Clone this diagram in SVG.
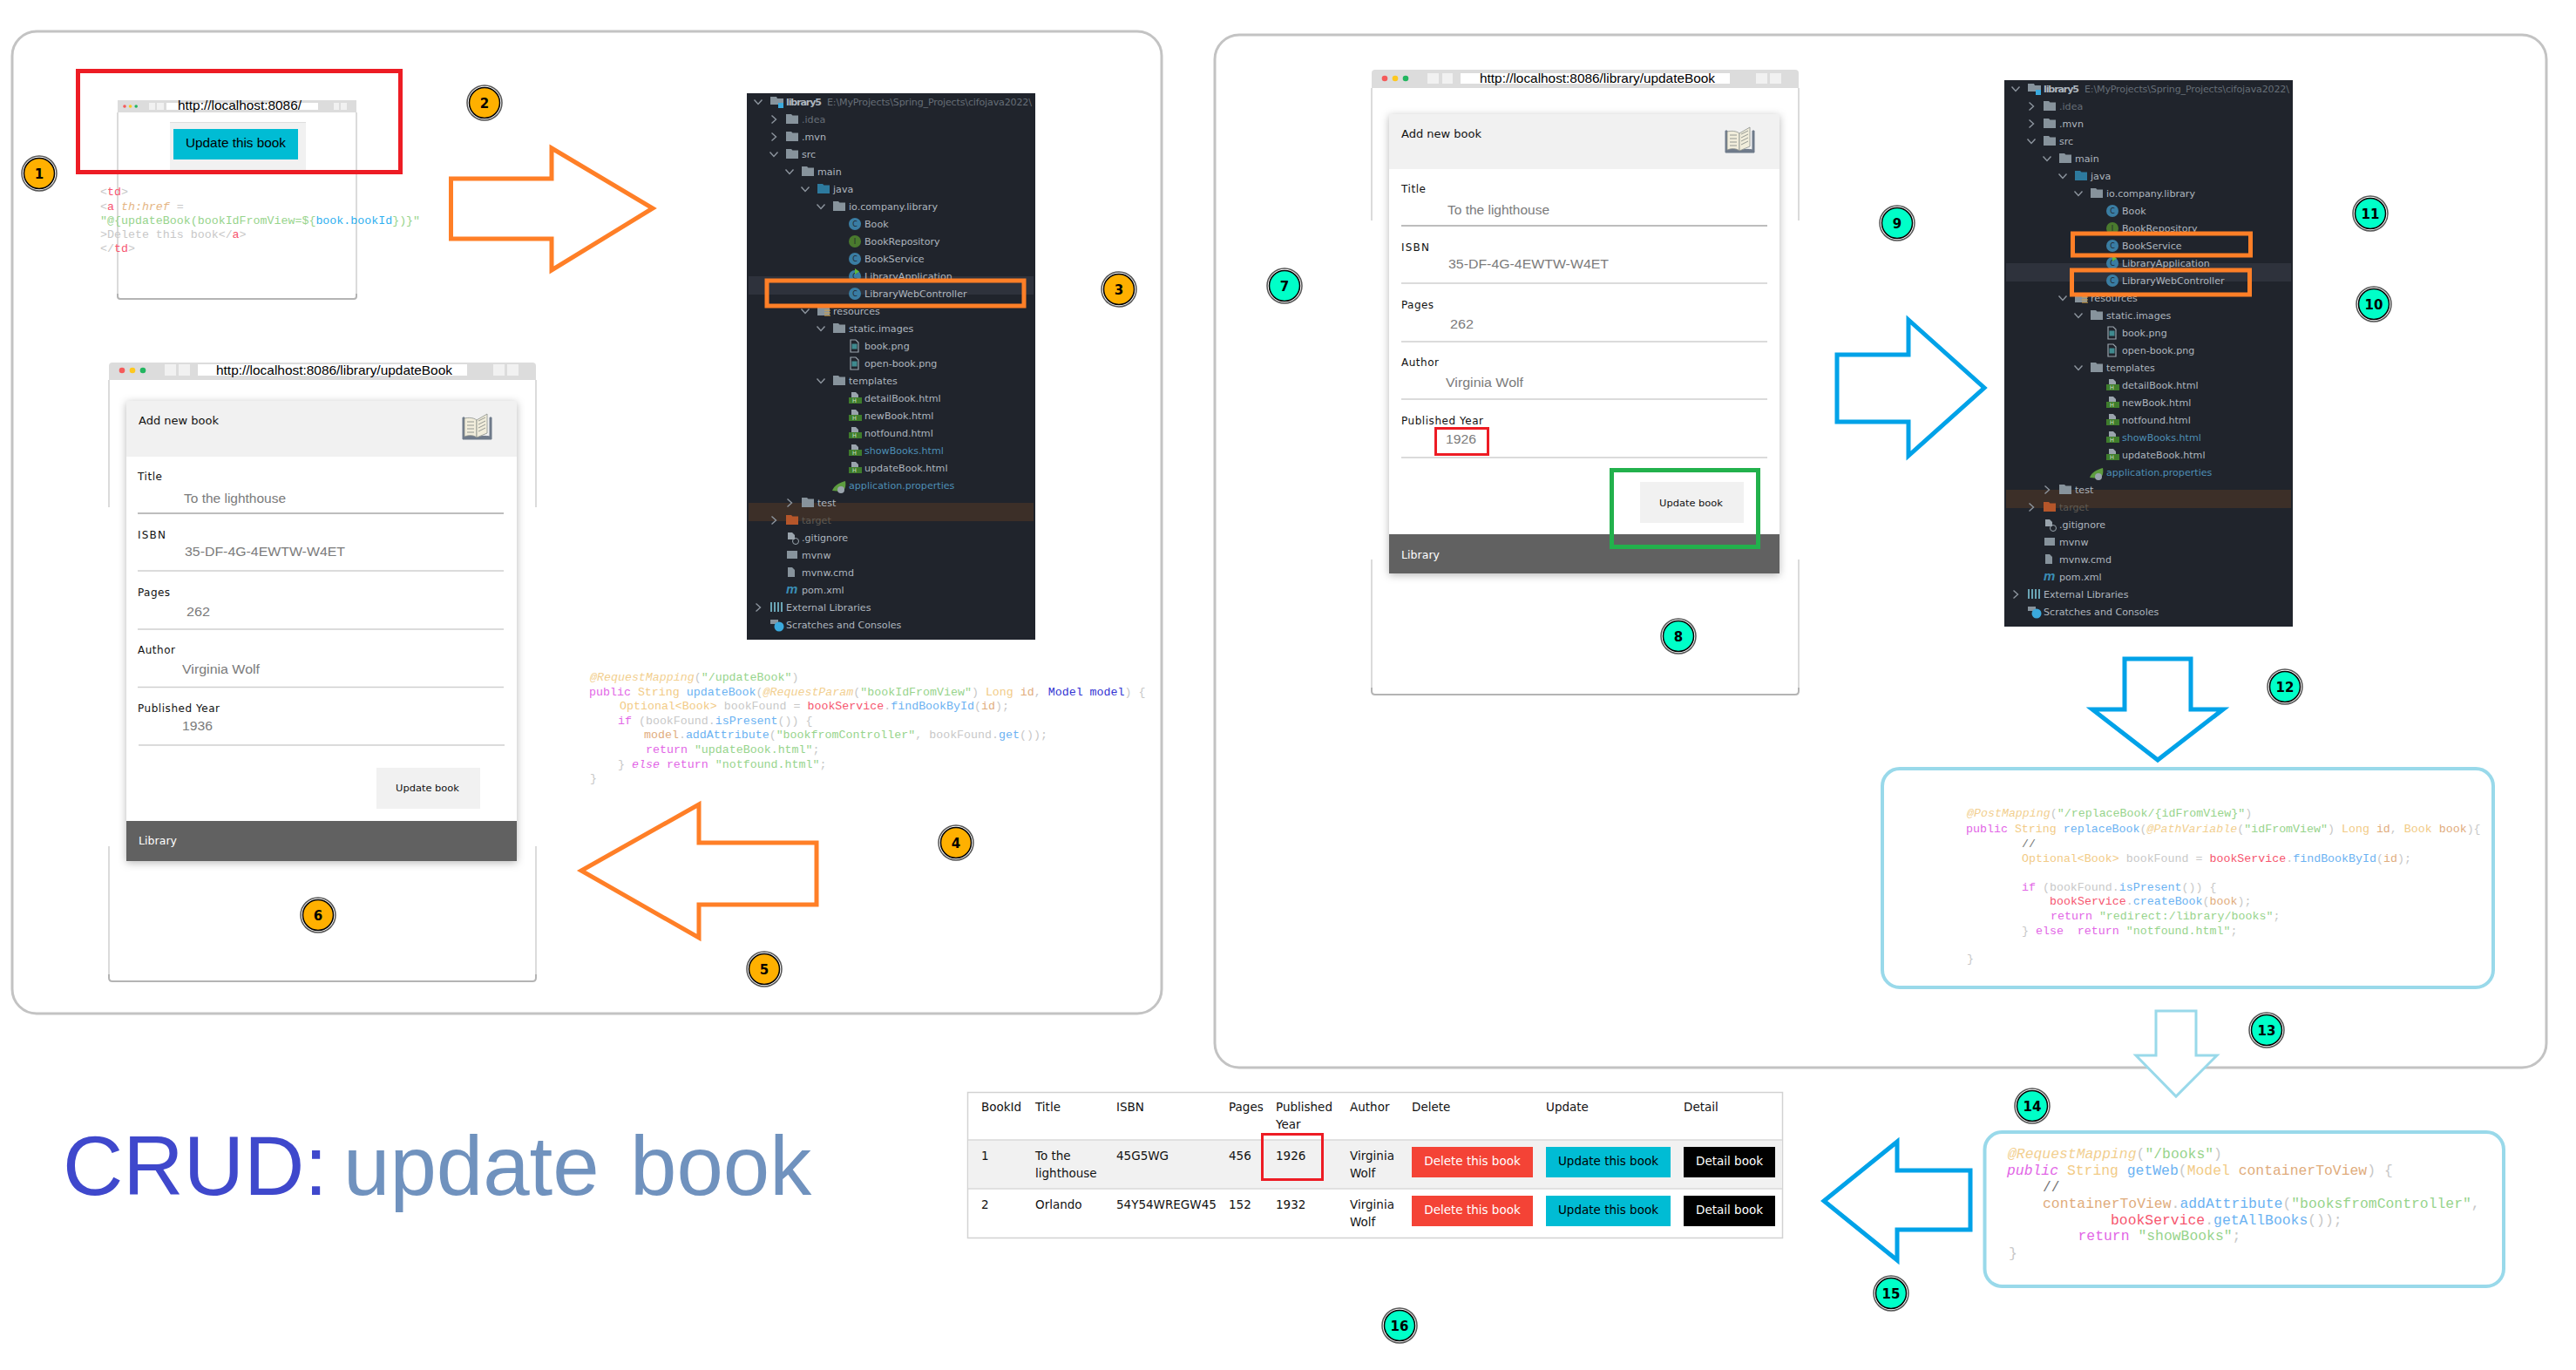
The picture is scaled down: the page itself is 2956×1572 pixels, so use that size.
<svg xmlns="http://www.w3.org/2000/svg" width="2956" height="1572" viewBox="0 0 2956 1572">
<style>
text{font-family:"Liberation Sans",Arial,sans-serif}
.panel{fill:#fff;stroke:#c3c3c3;stroke-width:3}
.win{fill:none;stroke:#cfcfcf;stroke-width:1.5}
.winb{fill:none;stroke:#b4b4b4;stroke-width:2}
.bar{fill:#dcdcdc}
.navb{fill:#f1f1f1}
.addr{fill:#fff}
.url{font-size:15px;fill:#000}
.card{fill:#fff;filter:url(#sh)}
.chead{fill:#f1f1f1}
.cfoot{fill:#616161}
.lb{font-family:"DejaVu Sans",sans-serif;font-size:12px;fill:#111}
.val{font-size:15.5px;fill:#7b7b7b}
.ln{stroke:#cfcfcf;stroke-width:1.3}
.ln1{stroke:#bdbdbd;stroke-width:2}
.btn{fill:#f1f1f1}
.btt{font-family:"DejaVu Sans",sans-serif;font-size:10.5px;fill:#111}
.fl{font-family:"DejaVu Sans",sans-serif;font-size:12.5px;fill:#fff}
.hl{fill:none;stroke:#ff7f27;stroke-width:5}
.red{fill:none;stroke:#ed1c24}
.arO{fill:#fff;stroke:#ff7f27;stroke-width:5;stroke-linejoin:miter}
.arB{fill:#fff;stroke:#00a2e8;stroke-width:5;stroke-linejoin:miter}
.arL{fill:#fff;stroke:#99d9ea;stroke-width:3;stroke-linejoin:miter}
.box{fill:#fff;stroke:#99d9ea;stroke-width:4}
.r1{fill:#fff;stroke:#555;stroke-width:1.5}
.bY{fill:#ffb000;stroke:#000;stroke-width:1.5}
.bC{fill:#00ffc8;stroke:#000;stroke-width:1.5}
.bt{font-family:"DejaVu Sans",sans-serif;font-weight:bold;font-size:15px;fill:#000;text-anchor:middle}
.tree{fill:#20242c}
.tt{font-family:"DejaVu Sans",sans-serif;font-size:11.1px;fill:#aeb6bf}
.tg{fill:#666e77}
.tb{fill:#4d8fb6}
.td{fill:#5f5a52}
.c{fill:none;stroke:#8d959e;stroke-width:1.4}
.code{font-family:"Liberation Mono",monospace;font-size:13.3px;fill:#c8c8c8;white-space:pre}
.code2{font-family:"Liberation Mono",monospace;font-size:16.4px;fill:#c8c8c8;white-space:pre}
.an{fill:#f2cf90;font-style:italic}
.st{fill:#97d48c}
.kw{fill:#e266e6}
.ki{fill:#e266e6;font-style:italic}
.me{fill:#6bb2f2}
.ty{fill:#f2cb86}
.pa{fill:#dfac7c}
.fi{fill:#f6566f}
.md{fill:#3232d2}
.cm{fill:#777}
.ta{fill:#f6566f}
.at{fill:#e5b685;font-style:italic}
.bl{fill:#2fb0f0}
.th{font-family:"DejaVu Sans",sans-serif;font-size:13.5px;fill:#111}
.bw{font-family:"DejaVu Sans",sans-serif;font-size:13.5px;text-anchor:middle}
.ttl{font-size:96px}
</style>
<defs>
<filter id="sh" x="-10%" y="-10%" width="120%" height="120%"><feDropShadow dx="0" dy="2" stdDeviation="5" flood-color="#000" flood-opacity=".28"/></filter>
<path id="chr" class="c" d="M-2.5-4.5 2.5 0-2.5 4.5"/>
<path id="chd" class="c" d="M-4.5-2.5 0 2.5 4.5-2.5"/>
<path id="fo" fill="#87939c" d="M0-6h6l1.5 1.500H14V5H0z"/>
<path id="foj" fill="#2d7a9e" d="M0-6h6l1.500 1.500H14V5H0z"/>
<g id="cl"><circle cx="7" r="7" fill="#3a7da3"/><text x="7" y="3" font-size="8" text-anchor="middle" fill="#20242c" style="font-family:'DejaVu Sans',sans-serif">C</text></g>
<g id="ifc"><circle cx="7" r="7" fill="#4a7a2e"/><text x="7" y="3" font-size="8" text-anchor="middle" fill="#20242c" style="font-family:'DejaVu Sans',sans-serif">I</text></g>
<g id="htm"><path d="M3-7h5l3 3v3H3z" fill="#9aa4ad"/><rect y="-1" width="15" height="7" fill="#3f7d2c"/><text x="4" y="5" font-size="6.5" fill="#cfe6c8" style="font-family:'DejaVu Sans',sans-serif">H</text></g>
<g id="img"><path d="M0-7h6l3 3V7H0z" fill="#20242c" stroke="#9aa4ad" stroke-width="1.2"/><rect x="1.5" y="-2.5" width="6" height="6" fill="#3f8a8f"/></g>
<g id="bk"><path d="M1 5V30H17V28C12 25 6 26 3 27V5z" fill="#6f7a8a" stroke="#6f7a8a"/><path d="M34 5V30H17V28C22 26 28 26 32 27V5z" fill="#6f7a8a" stroke="#6f7a8a"/><path d="M3 6C8 5 13 5 17 8V28C13 25 8 25 3 27z" fill="#f1eddb" stroke="#8a8f8a" stroke-width=".8"/><path d="M17 8 29 1V23L17 28z" fill="#f1eddb" stroke="#8a8f8a" stroke-width=".8"/><path d="M6 10H14M6 14H14M6 18H14M6 22H14M19 9 27 5M19 13 27 9M19 17 27 13M19 21 27 17" stroke="#8a8f8a" stroke-width=".9" fill="none"/></g>
<g id="dots"><circle cx="0" r="3.300" fill="#f55a5a"/><circle cx="12" r="3.300" fill="#fdc81f"/><circle cx="24" r="3.300" fill="#22b660"/></g>
</defs>

<rect width="2956" height="1572" fill="#fff"/>
<rect id="panel-left" class="panel" x="14" y="36" width="1319" height="1127" rx="28"/>
<rect id="panel-right" class="panel" x="1394" y="40" width="1528" height="1185" rx="28"/>

<g id="browser-start">
<path class="win" d="M135 129V338"/><path class="win" d="M409 129V338"/>
<path class="winb" d="M135 337V340Q135 343 138 343H406Q409 343 409 340V337"/>
<path class="bar" d="M135 115H409V129H135z"/>
<g transform="translate(143,122) scale(.55)"><use href="#dots"/></g>
<rect class="navb" x="171" y="118" width="7" height="8"/><rect class="navb" x="180" y="118" width="8" height="8"/>
<rect class="addr" x="191" y="118" width="174" height="8"/>
<rect class="navb" x="383" y="118" width="6" height="8"/><rect class="navb" x="391" y="118" width="7" height="8"/>
<text class="url" x="204" y="126" textLength="142" lengthAdjust="spacingAndGlyphs">http://localhost:8086/</text>
<rect x="195" y="140" width="156" height="56" fill="#f1f1f1"/><path d="M195 140.500H351" stroke="#dedede"/>
<rect x="199" y="148" width="143" height="35" fill="#00bcd4"/>
<text x="213" y="169" font-size="15" fill="#000" textLength="115" lengthAdjust="spacingAndGlyphs">Update this book</text>
<rect class="red" x="89.500" y="81.500" width="370" height="116" stroke-width="5"/>
<g class="code">
<text class="code" x="115" y="224">&lt;<tspan class="ta">td</tspan>&gt;</text>
<text class="code" x="115" y="241">&lt;<tspan class="ta">a</tspan> <tspan class="at">th:href</tspan> =</text>
<text class="code" x="115" y="257"><tspan class="st">"@{updateBook(bookIdFromView=${</tspan><tspan class="bl">book.bookId</tspan><tspan class="st">})}"</tspan></text>
<text class="code" x="115" y="273">&gt;Delete this book&lt;/<tspan class="ta">a</tspan>&gt;</text>
<text class="code" x="115" y="289">&lt;/<tspan class="ta">td</tspan>&gt;</text>
</g>
</g>

<g id="tree-left" transform="translate(857,107)">
<rect class="tree" width="331" height="627"/>
<rect x="2" y="210" width="327" height="21" fill="#2e323c"/>
<rect x="2" y="470" width="327" height="21" fill="#3c2f28"/>
<use href="#chd" x="13" y="10"/><path d="M27 4h7l1 2h7v8h-6v-1h-9z" fill="#87939c"/><rect x="36" y="11" width="6" height="6" fill="#3aa9dd"/>
<text class="tt" x="45" y="14" font-weight="bold" textLength="41">library5</text><text class="tt tg" x="92" y="14" textLength="235">E:\MyProjects\Spring_Projects\cifojava2022\</text>
<use href="#chr" x="31" y="30"/><use href="#fo" x="45" y="30"/><text class="tt tg" x="63" y="34">.idea</text>
<use href="#chr" x="31" y="50"/><use href="#fo" x="45" y="50"/><text class="tt" x="63" y="54">.mvn</text>
<use href="#chd" x="31" y="70"/><use href="#fo" x="45" y="70"/><text class="tt" x="63" y="74">src</text>
<use href="#chd" x="49" y="90"/><use href="#fo" x="63" y="90"/><text class="tt" x="81" y="94">main</text>
<use href="#chd" x="67" y="110"/><use href="#foj" x="81" y="110"/><text class="tt" x="99" y="114">java</text>
<use href="#chd" x="85" y="130"/><use href="#fo" x="99" y="130"/><text class="tt" x="117" y="134">io.company.library</text>
<use href="#cl" x="117" y="150"/><text class="tt" x="135" y="154">Book</text>
<use href="#ifc" x="117" y="170"/><text class="tt" x="135" y="174">BookRepository</text>
<use href="#cl" x="117" y="190"/><text class="tt" x="135" y="194">BookService</text>
<use href="#cl" x="117" y="210"/><path d="M124 201l5 3.500-5 3.500z" fill="#5fb83a"/><text class="tt" x="135" y="214">LibraryApplication</text>
<use href="#cl" x="117" y="230"/><text class="tt" x="135" y="234">LibraryWebController</text>
<use href="#chd" x="67" y="250"/><use href="#fo" x="81" y="250"/><path d="M89 249h7M89 252h7M89 255h7" stroke="#d9a441" stroke-width="1.2"/><text class="tt" x="99" y="254">resources</text>
<use href="#chd" x="85" y="270"/><use href="#fo" x="99" y="270"/><text class="tt" x="117" y="274">static.images</text>
<use href="#img" x="119" y="290"/><text class="tt" x="135" y="294">book.png</text>
<use href="#img" x="119" y="310"/><text class="tt" x="135" y="314">open-book.png</text>
<use href="#chd" x="85" y="330"/><use href="#fo" x="99" y="330"/><text class="tt" x="117" y="334">templates</text>
<use href="#htm" x="117" y="350"/><text class="tt" x="135" y="354">detailBook.html</text>
<use href="#htm" x="117" y="370"/><text class="tt" x="135" y="374">newBook.html</text>
<use href="#htm" x="117" y="390"/><text class="tt" x="135" y="394">notfound.html</text>
<use href="#htm" x="117" y="410"/><text class="tt tb" x="135" y="414">showBooks.html</text>
<use href="#htm" x="117" y="430"/><text class="tt" x="135" y="434">updateBook.html</text>
<path d="M98 456c2-6 8-9 15-11 1 5 0 10-4 12z" fill="#5d9c3f"/><circle cx="108" cy="455" r="4" fill="#9aa4ad"/><text class="tt tb" x="117" y="454">application.properties</text>
<use href="#chr" x="49" y="470"/><use href="#fo" x="63" y="470"/><text class="tt" x="81" y="474">test</text>
<use href="#chr" x="31" y="490"/><path fill="#b5562a" d="M45 484h6l1.500 1.500H59V495H45z"/><text class="tt td" x="63" y="494">target</text>
<path d="M47 504h5l3 3v5h-8z" fill="#9aa4ad"/><circle cx="56" cy="514" r="3.500" fill="none" stroke="#9aa4ad"/><text class="tt" x="63" y="514">.gitignore</text>
<rect x="46" y="525" width="12" height="9" fill="#87939c"/><text class="tt" x="63" y="534">mvnw</text>
<path d="M47 544h5l3 3v8h-8z" fill="#87939c"/><text class="tt" x="63" y="554">mvnw.cmd</text>
<text x="45" y="574" font-size="15" font-weight="bold" font-style="italic" fill="#3a8db5">m</text><text class="tt" x="63" y="574">pom.xml</text>
<use href="#chr" x="13" y="590"/><path d="M28 584v11M32 584v11M36 584v11M40 584v11" stroke="#6aa5b5" stroke-width="2"/><text class="tt" x="45" y="594">External Libraries</text>
<path d="M27 604h9v5h-9z" fill="#87939c"/><circle cx="37" cy="612" r="5.500" fill="#3aa9dd"/><text class="tt" x="45" y="614">Scratches and Consoles</text>
<rect class="hl" x="23" y="215" width="295" height="29"/>
</g>

<g id="tree-right" transform="translate(2300,92)">
<rect class="tree" width="331" height="627"/>
<rect x="2" y="210" width="327" height="21" fill="#2e323c"/>
<rect x="2" y="470" width="327" height="21" fill="#3c2f28"/>
<use href="#chd" x="13" y="10"/><path d="M27 4h7l1 2h7v8h-6v-1h-9z" fill="#87939c"/><rect x="36" y="11" width="6" height="6" fill="#3aa9dd"/>
<text class="tt" x="45" y="14" font-weight="bold" textLength="41">library5</text><text class="tt tg" x="92" y="14" textLength="235">E:\MyProjects\Spring_Projects\cifojava2022\</text>
<use href="#chr" x="31" y="30"/><use href="#fo" x="45" y="30"/><text class="tt tg" x="63" y="34">.idea</text>
<use href="#chr" x="31" y="50"/><use href="#fo" x="45" y="50"/><text class="tt" x="63" y="54">.mvn</text>
<use href="#chd" x="31" y="70"/><use href="#fo" x="45" y="70"/><text class="tt" x="63" y="74">src</text>
<use href="#chd" x="49" y="90"/><use href="#fo" x="63" y="90"/><text class="tt" x="81" y="94">main</text>
<use href="#chd" x="67" y="110"/><use href="#foj" x="81" y="110"/><text class="tt" x="99" y="114">java</text>
<use href="#chd" x="85" y="130"/><use href="#fo" x="99" y="130"/><text class="tt" x="117" y="134">io.company.library</text>
<use href="#cl" x="117" y="150"/><text class="tt" x="135" y="154">Book</text>
<use href="#ifc" x="117" y="170"/><text class="tt" x="135" y="174">BookRepository</text>
<use href="#cl" x="117" y="190"/><text class="tt" x="135" y="194">BookService</text>
<use href="#cl" x="117" y="210"/><path d="M124 201l5 3.500-5 3.500z" fill="#5fb83a"/><text class="tt" x="135" y="214">LibraryApplication</text>
<use href="#cl" x="117" y="230"/><text class="tt" x="135" y="234">LibraryWebController</text>
<use href="#chd" x="67" y="250"/><use href="#fo" x="81" y="250"/><path d="M89 249h7M89 252h7M89 255h7" stroke="#d9a441" stroke-width="1.2"/><text class="tt" x="99" y="254">resources</text>
<use href="#chd" x="85" y="270"/><use href="#fo" x="99" y="270"/><text class="tt" x="117" y="274">static.images</text>
<use href="#img" x="119" y="290"/><text class="tt" x="135" y="294">book.png</text>
<use href="#img" x="119" y="310"/><text class="tt" x="135" y="314">open-book.png</text>
<use href="#chd" x="85" y="330"/><use href="#fo" x="99" y="330"/><text class="tt" x="117" y="334">templates</text>
<use href="#htm" x="117" y="350"/><text class="tt" x="135" y="354">detailBook.html</text>
<use href="#htm" x="117" y="370"/><text class="tt" x="135" y="374">newBook.html</text>
<use href="#htm" x="117" y="390"/><text class="tt" x="135" y="394">notfound.html</text>
<use href="#htm" x="117" y="410"/><text class="tt tb" x="135" y="414">showBooks.html</text>
<use href="#htm" x="117" y="430"/><text class="tt" x="135" y="434">updateBook.html</text>
<path d="M98 456c2-6 8-9 15-11 1 5 0 10-4 12z" fill="#5d9c3f"/><circle cx="108" cy="455" r="4" fill="#9aa4ad"/><text class="tt tb" x="117" y="454">application.properties</text>
<use href="#chr" x="49" y="470"/><use href="#fo" x="63" y="470"/><text class="tt" x="81" y="474">test</text>
<use href="#chr" x="31" y="490"/><path fill="#b5562a" d="M45 484h6l1.500 1.500H59V495H45z"/><text class="tt td" x="63" y="494">target</text>
<path d="M47 504h5l3 3v5h-8z" fill="#9aa4ad"/><circle cx="56" cy="514" r="3.500" fill="none" stroke="#9aa4ad"/><text class="tt" x="63" y="514">.gitignore</text>
<rect x="46" y="525" width="12" height="9" fill="#87939c"/><text class="tt" x="63" y="534">mvnw</text>
<path d="M47 544h5l3 3v8h-8z" fill="#87939c"/><text class="tt" x="63" y="554">mvnw.cmd</text>
<text x="45" y="574" font-size="15" font-weight="bold" font-style="italic" fill="#3a8db5">m</text><text class="tt" x="63" y="574">pom.xml</text>
<use href="#chr" x="13" y="590"/><path d="M28 584v11M32 584v11M36 584v11M40 584v11" stroke="#6aa5b5" stroke-width="2"/><text class="tt" x="45" y="594">External Libraries</text>
<path d="M27 604h9v5h-9z" fill="#87939c"/><circle cx="37" cy="612" r="5.500" fill="#3aa9dd"/><text class="tt" x="45" y="614">Scratches and Consoles</text>
<rect class="hl" x="78.500" y="176" width="204" height="25"/>
<rect class="hl" x="77.500" y="218" width="204" height="28"/>
</g>

<g id="browser-update-1">
<path class="win" d="M125 436V582M615 436V582M125 971V1120M615 971V1120"/>
<path class="winb" d="M125 1118V1122Q125 1126 129 1126H611Q615 1126 615 1122V1118"/>
<path class="bar" d="M125 420Q125 416 129 416H611Q615 416 615 420V436H125z"/>
<use href="#dots" x="140" y="425"/>
<rect class="navb" x="189" y="418" width="13" height="13"/><rect class="navb" x="205" y="418" width="13" height="13"/>
<rect class="addr" x="227" y="418" width="309" height="13"/>
<rect class="navb" x="566" y="418" width="13" height="13"/><rect class="navb" x="582" y="418" width="13" height="13"/>
<text class="url" x="248" y="430" textLength="271" lengthAdjust="spacingAndGlyphs">http://localhost:8086/library/updateBook</text>
<rect class="card" x="145" y="460" width="448" height="528"/>
<rect class="chead" x="145" y="460" width="448" height="64"/>
<rect class="cfoot" x="145" y="942" width="448" height="46"/>
<use href="#bk" x="530" y="474"/>
<text class="lb" x="159" y="487" textLength="92" lengthAdjust="spacingAndGlyphs">Add new book</text>
<text class="lb" x="158" y="551" textLength="28">Title</text>
<text class="val" x="211" y="577" textLength="117" lengthAdjust="spacingAndGlyphs">To the lighthouse</text>
<path class="ln1" d="M158 589H578"/>
<text class="lb" x="158" y="618" textLength="32">ISBN</text>
<text class="val" x="212" y="638" textLength="184" lengthAdjust="spacingAndGlyphs">35-DF-4G-4EWTW-W4ET</text>
<path class="ln" d="M158 655H578"/>
<text class="lb" x="158" y="684" textLength="37">Pages</text>
<text class="val" x="214" y="707" textLength="27" lengthAdjust="spacingAndGlyphs">262</text>
<path class="ln" d="M158 722H578"/>
<text class="lb" x="158" y="750" textLength="43">Author</text>
<text class="val" x="209" y="773" textLength="89" lengthAdjust="spacingAndGlyphs">Virginia Wolf</text>
<path class="ln" d="M158 788.500H578"/>
<text class="lb" x="158" y="817" textLength="94">Published Year</text>
<text class="val" x="209" y="838" textLength="35" lengthAdjust="spacingAndGlyphs">1936</text>
<path class="ln" d="M159 855H579"/>
<rect class="btn" x="432" y="881" width="119" height="47"/>
<text class="btt" x="454" y="908" textLength="73" lengthAdjust="spacingAndGlyphs">Update book</text>
<text class="fl" x="159" y="969" textLength="44">Library</text>
</g>

<g id="browser-update-2">
<path class="win" d="M1574 101V253M2064 101V253M1574 642V791M2064 642V791"/>
<path class="winb" d="M1574 789V793Q1574 797 1578 797H2060Q2064 797 2064 793V789"/>
<path class="bar" d="M1574 84Q1574 80 1578 80H2060Q2064 80 2064 84V101H1574z"/>
<use href="#dots" x="1589" y="90"/>
<rect class="navb" x="1638" y="84" width="13" height="12"/><rect class="navb" x="1655" y="84" width="12" height="12"/>
<rect class="addr" x="1676" y="84" width="309" height="12"/>
<rect class="navb" x="2015" y="84" width="13" height="12"/><rect class="navb" x="2031" y="84" width="13" height="12"/>
<text class="url" x="1698" y="95" textLength="270" lengthAdjust="spacingAndGlyphs">http://localhost:8086/library/updateBook</text>
<rect class="card" x="1594" y="131" width="448" height="527"/>
<rect class="chead" x="1594" y="131" width="448" height="63"/>
<rect class="cfoot" x="1594" y="613" width="448" height="45"/>
<use href="#bk" x="1979" y="145"/>
<text class="lb" x="1608" y="158" textLength="92" lengthAdjust="spacingAndGlyphs">Add new book</text>
<text class="lb" x="1608" y="221" textLength="28">Title</text>
<text class="val" x="1661" y="246" textLength="117" lengthAdjust="spacingAndGlyphs">To the lighthouse</text>
<path class="ln1" d="M1608 259H2028"/>
<text class="lb" x="1608" y="288" textLength="32">ISBN</text>
<text class="val" x="1662" y="308" textLength="184" lengthAdjust="spacingAndGlyphs">35-DF-4G-4EWTW-W4ET</text>
<path class="ln" d="M1608 325H2028"/>
<text class="lb" x="1608" y="354" textLength="37">Pages</text>
<text class="val" x="1664" y="377" textLength="27" lengthAdjust="spacingAndGlyphs">262</text>
<path class="ln" d="M1608 392H2028"/>
<text class="lb" x="1608" y="420" textLength="43">Author</text>
<text class="val" x="1659" y="444" textLength="89" lengthAdjust="spacingAndGlyphs">Virginia Wolf</text>
<path class="ln" d="M1608 458H2028"/>
<text class="lb" x="1608" y="487" textLength="94">Published Year</text>
<text class="val" x="1659" y="509" textLength="35" lengthAdjust="spacingAndGlyphs">1926</text>
<path class="ln" d="M1608 525H2028"/>
<rect class="red" x="1647.500" y="491.500" width="60" height="30" stroke-width="3"/>
<rect class="btn" x="1882" y="553" width="119" height="47"/>
<text class="btt" x="1904" y="581" textLength="73" lengthAdjust="spacingAndGlyphs">Update book</text>
<text class="fl" x="1608" y="641" textLength="44">Library</text>
<rect x="1849.500" y="539.500" width="168" height="88" fill="none" stroke="#22b14c" stroke-width="5"/>
</g>

<g id="code-update-mapping">
<text class="code" x="677" y="781"><tspan class="an">@RequestMapping</tspan>(<tspan class="st">"/updateBook"</tspan>)</text>
<text class="code" x="676" y="798"><tspan class="kw">public</tspan> <tspan class="ty">String</tspan> <tspan class="me">updateBook</tspan>(<tspan class="an">@RequestParam</tspan>(<tspan class="st">"bookIdFromView"</tspan>) <tspan class="ty">Long</tspan> <tspan class="pa">id</tspan>, <tspan class="md">Model model</tspan>) {</text>
<text class="code" x="711" y="814"><tspan class="ty">Optional&lt;Book&gt;</tspan> bookFound = <tspan class="fi">bookService</tspan>.<tspan class="me">findBookById</tspan>(<tspan class="pa">id</tspan>);</text>
<text class="code" x="709" y="831"><tspan class="kw">if</tspan> (bookFound.<tspan class="me">isPresent</tspan>()) {</text>
<text class="code" x="739" y="847"><tspan class="pa">model</tspan>.<tspan class="me">addAttribute</tspan>(<tspan class="st">"bookfromController"</tspan>, bookFound.<tspan class="me">get</tspan>());</text>
<text class="code" x="741" y="864"><tspan class="kw">return</tspan> <tspan class="st">"updateBook.html"</tspan>;</text>
<text class="code" x="709" y="881">} <tspan class="ki">else</tspan> <tspan class="kw">return</tspan> <tspan class="st">"notfound.html"</tspan>;</text>
<text class="code" x="677" y="897">}</text>
</g>

<g id="code-replace-book">
<rect class="box" x="2160" y="882" width="701" height="251" rx="20"/>
<text class="code" x="2257" y="937"><tspan class="an">@PostMapping</tspan>(<tspan class="st">"/replaceBook/{idFromView}"</tspan>)</text>
<text class="code" x="2256" y="955"><tspan class="kw">public</tspan> <tspan class="ty">String</tspan> <tspan class="me">replaceBook</tspan>(<tspan class="an">@PathVariable</tspan>(<tspan class="st">"idFromView"</tspan>) <tspan class="ty">Long</tspan> <tspan class="pa">id</tspan>, <tspan class="ty">Book</tspan> <tspan class="pa">book</tspan>){</text>
<text class="code" x="2320" y="972"><tspan class="cm">//</tspan></text>
<text class="code" x="2320" y="989"><tspan class="ty">Optional&lt;Book&gt;</tspan> bookFound = <tspan class="fi">bookService</tspan>.<tspan class="me">findBookById</tspan>(<tspan class="pa">id</tspan>);</text>
<text class="code" x="2320" y="1022"><tspan class="kw">if</tspan> (bookFound.<tspan class="me">isPresent</tspan>()) {</text>
<text class="code" x="2352" y="1038"><tspan class="fi">bookService</tspan>.<tspan class="me">createBook</tspan>(<tspan class="pa">book</tspan>);</text>
<text class="code" x="2353" y="1055"><tspan class="kw">return</tspan> <tspan class="st">"redirect:/library/books"</tspan>;</text>
<text class="code" x="2320" y="1072">} <tspan class="kw">else</tspan>  <tspan class="kw">return</tspan> <tspan class="st">"notfound.html"</tspan>;</text>
<text class="code" x="2257" y="1104">}</text>
</g>

<g id="code-get-web">
<rect class="box" x="2277.500" y="1299" width="595.500" height="177" rx="20"/>
<text class="code2" x="2304" y="1329"><tspan class="an">@RequestMapping</tspan>(<tspan class="st">"/books"</tspan>)</text>
<text class="code2" x="2303" y="1348"><tspan class="ki">public</tspan> <tspan class="ty">String</tspan> <tspan class="me">getWeb</tspan>(<tspan class="ty">Model</tspan> <tspan class="pa">containerToView</tspan>) {</text>
<text class="code2" x="2344" y="1367"><tspan class="cm">//</tspan></text>
<text class="code2" x="2344" y="1386"><tspan class="pa">containerToView</tspan>.<tspan class="me">addAttribute</tspan>(<tspan class="st">"booksfromController"</tspan>,</text>
<text class="code2" x="2422" y="1405"><tspan class="fi">bookService</tspan>.<tspan class="me">getAllBooks</tspan>());</text>
<text class="code2" x="2384.500" y="1423"><tspan class="kw">return</tspan> <tspan class="st">"showBooks"</tspan>;</text>
<text class="code2" x="2305" y="1443">}</text>
</g>

<g id="book-table">
<rect x="1110.500" y="1253.500" width="935" height="167" fill="#fff" stroke="#d2d2d2" stroke-width="1.5"/>
<rect x="1111" y="1308" width="934" height="56" fill="#f1f1f1"/>
<path d="M1111 1308H2045M1111 1364H2045" stroke="#d9d9d9" stroke-width="1.5"/>
<text class="th" x="1126" y="1275">BookId</text><text class="th" x="1188" y="1275">Title</text><text class="th" x="1281" y="1275">ISBN</text><text class="th" x="1410" y="1275">Pages</text><text class="th" x="1464" y="1275">Published</text><text class="th" x="1464" y="1295">Year</text><text class="th" x="1549" y="1275">Author</text><text class="th" x="1620" y="1275">Delete</text><text class="th" x="1774" y="1275">Update</text><text class="th" x="1932" y="1275">Detail</text>
<text class="th" x="1126" y="1331">1</text><text class="th" x="1188" y="1331">To the</text><text class="th" x="1188" y="1351">lighthouse</text><text class="th" x="1281" y="1331">45G5WG</text><text class="th" x="1410" y="1331">456</text><text class="th" x="1464" y="1331">1926</text><text class="th" x="1549" y="1331">Virginia</text><text class="th" x="1549" y="1351">Wolf</text>
<rect x="1620" y="1316" width="139" height="35" fill="#f44336"/><text class="bw" x="1689.500" y="1337" fill="#fff">Delete this book</text>
<rect x="1774" y="1316" width="143" height="35" fill="#00bcd4"/><text class="bw" x="1845.500" y="1337" fill="#000">Update this book</text>
<rect x="1932" y="1316" width="105" height="35" fill="#000"/><text class="bw" x="1984.500" y="1337" fill="#fff">Detail book</text>
<text class="th" x="1126" y="1387">2</text><text class="th" x="1188" y="1387">Orlando</text><text class="th" x="1281" y="1387">54Y54WREGW45</text><text class="th" x="1410" y="1387">152</text><text class="th" x="1464" y="1387">1932</text><text class="th" x="1549" y="1387">Virginia</text><text class="th" x="1549" y="1407">Wolf</text>
<rect x="1620" y="1372" width="139" height="35" fill="#f44336"/><text class="bw" x="1689.500" y="1393" fill="#fff">Delete this book</text>
<rect x="1774" y="1372" width="143" height="35" fill="#00bcd4"/><text class="bw" x="1845.500" y="1393" fill="#000">Update this book</text>
<rect x="1932" y="1372" width="105" height="35" fill="#000"/><text class="bw" x="1984.500" y="1393" fill="#fff">Detail book</text>
<rect class="red" x="1448.500" y="1301.500" width="69" height="52" stroke-width="3"/>
</g>

<g id="title"><text class="ttl" x="72" y="1371"><tspan fill="#3f48cc">CRUD:</tspan></text><text class="ttl" x="394" y="1371" fill="#7092be">update</text><text class="ttl" x="723" y="1371" fill="#7092be">book</text></g>

<g id="connectors">
<polygon class="arO" points="517.500,205 633,205 633,170 749,239 633,310 633,274 517.500,274"/>
<polygon class="arO" points="937,967 802,967 802,923 667,999 802,1076 802,1038 937,1038"/>
<polygon class="arB" points="2108,407 2190,407 2190,367 2277,445 2190,523 2190,484 2108,484"/>
<polygon class="arB" points="2438,756 2514,756 2514,814 2551,814 2476,872 2401,814 2438,814"/>
<polygon class="arL" points="2474,1160 2520,1160 2520,1211 2544,1211 2497,1258 2451,1211 2474,1211"/>
<polygon class="arB" points="2261,1343 2177,1343 2177,1310 2093,1378 2177,1446 2177,1411 2261,1411"/>
</g>

<g id="badge-1"><circle class="r1" cx="45" cy="199" r="20"/><circle class="bY" cx="45" cy="199" r="17.500"/><text class="bt" x="45" y="204.500">1</text></g>
<g id="badge-2"><circle class="r1" cx="556" cy="118" r="20"/><circle class="bY" cx="556" cy="118" r="17.500"/><text class="bt" x="556" y="123.500">2</text></g>
<g id="badge-3"><circle class="r1" cx="1284" cy="332" r="20"/><circle class="bY" cx="1284" cy="332" r="17.500"/><text class="bt" x="1284" y="337.500">3</text></g>
<g id="badge-4"><circle class="r1" cx="1097" cy="967" r="20"/><circle class="bY" cx="1097" cy="967" r="17.500"/><text class="bt" x="1097" y="972.500">4</text></g>
<g id="badge-5"><circle class="r1" cx="877" cy="1112" r="20"/><circle class="bY" cx="877" cy="1112" r="17.500"/><text class="bt" x="877" y="1117.500">5</text></g>
<g id="badge-6"><circle class="r1" cx="365" cy="1050" r="20"/><circle class="bY" cx="365" cy="1050" r="17.500"/><text class="bt" x="365" y="1055.500">6</text></g>
<g id="badge-7"><circle class="r1" cx="1474" cy="328" r="20"/><circle class="bC" cx="1474" cy="328" r="17.500"/><text class="bt" x="1474" y="333.500">7</text></g>
<g id="badge-8"><circle class="r1" cx="1926" cy="730" r="20"/><circle class="bC" cx="1926" cy="730" r="17.500"/><text class="bt" x="1926" y="735.500">8</text></g>
<g id="badge-9"><circle class="r1" cx="2177" cy="256" r="20"/><circle class="bC" cx="2177" cy="256" r="17.500"/><text class="bt" x="2177" y="261.500">9</text></g>
<g id="badge-10"><circle class="r1" cx="2724" cy="349" r="20"/><circle class="bC" cx="2724" cy="349" r="17.500"/><text class="bt" x="2724" y="354.500">10</text></g>
<g id="badge-11"><circle class="r1" cx="2720" cy="245" r="20"/><circle class="bC" cx="2720" cy="245" r="17.500"/><text class="bt" x="2720" y="250.500">11</text></g>
<g id="badge-12"><circle class="r1" cx="2622" cy="788" r="20"/><circle class="bC" cx="2622" cy="788" r="17.500"/><text class="bt" x="2622" y="793.500">12</text></g>
<g id="badge-13"><circle class="r1" cx="2601" cy="1182" r="20"/><circle class="bC" cx="2601" cy="1182" r="17.500"/><text class="bt" x="2601" y="1187.500">13</text></g>
<g id="badge-14"><circle class="r1" cx="2332" cy="1269" r="20"/><circle class="bC" cx="2332" cy="1269" r="17.500"/><text class="bt" x="2332" y="1274.500">14</text></g>
<g id="badge-15"><circle class="r1" cx="2170" cy="1484" r="20"/><circle class="bC" cx="2170" cy="1484" r="17.500"/><text class="bt" x="2170" y="1489.500">15</text></g>
<g id="badge-16"><circle class="r1" cx="1606" cy="1521" r="20"/><circle class="bC" cx="1606" cy="1521" r="17.500"/><text class="bt" x="1606" y="1526.500">16</text></g>
</svg>
